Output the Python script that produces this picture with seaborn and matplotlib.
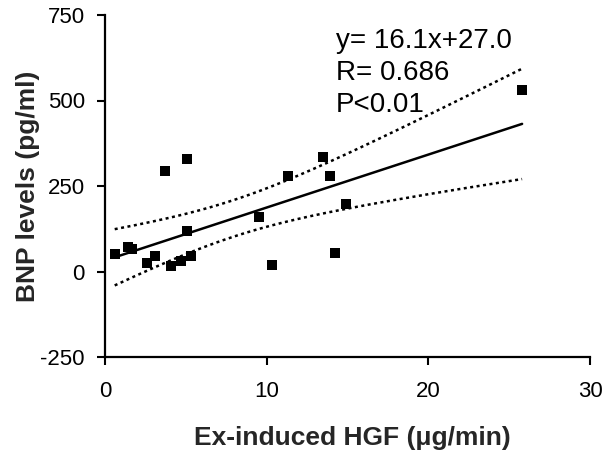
import numpy as np
import pandas as pd
import matplotlib
matplotlib.use("Agg")
import matplotlib.pyplot as plt
import seaborn as sns

# Data
hgf = [0.6, 1.4, 1.7, 2.6, 3.1, 4.1, 3.7, 5.1, 4.7, 5.3, 5.1, 9.5, 10.3, 11.3, 13.5, 13.9, 14.2, 14.9, 25.8]
bnp = [50, 72, 65, 26, 44, 17, 294, 329, 32, 44, 119, 160, 20, 279, 334, 279, 55, 198, 530]

x_ticks = [0, 10, 20, 30]
y_ticks = [-250, 0, 250, 500, 750]
stats_lines = ["y= 16.1x+27.0", "R= 0.686", "P<0.01"]
x_label = "Ex-induced HGF (\u03bcg/min)"
y_label = "BNP levels (pg/ml)"

df = pd.DataFrame({"hgf": hgf, "bnp": bnp})

sns.set_style("ticks")
plt.rcParams["font.family"] = ["Liberation Sans", "DejaVu Sans"]
plt.rcParams["axes.unicode_minus"] = False

fig = plt.figure(figsize=(6.03, 4.53), dpi=100)
ax = fig.add_axes([105 / 603, 1 - 357 / 453, 485 / 603, 342 / 453])

# regression and 95% confidence limits of the mean
x = np.asarray(hgf, float)
y = np.asarray(bnp, float)
n = len(x)
slope, intercept = np.polyfit(x, y, 1)
xs = np.linspace(x.min(), x.max(), 200)
yfit = slope * xs + intercept
resid = y - (slope * x + intercept)
s = np.sqrt(np.sum(resid ** 2) / (n - 2))
sxx = np.sum((x - x.mean()) ** 2)
tval = 2.11
half = tval * s * np.sqrt(1.0 / n + (xs - x.mean()) ** 2 / sxx)

sns.regplot(data=df, x="hgf", y="bnp", ax=ax, scatter=False, ci=None,
            color="black", line_kws={"lw": 1.8})
sns.lineplot(x=xs, y=yfit + half, ax=ax, color="black", lw=1.8,
             linestyle=(0, (1.2, 1.4)))
sns.lineplot(x=xs, y=yfit - half, ax=ax, color="black", lw=1.8,
             linestyle=(0, (1.2, 1.4)))
sns.scatterplot(data=df, x="hgf", y="bnp", ax=ax, marker="s", s=50,
                color="black", edgecolor="black", linewidth=0, zorder=5)

ax.set_xlim(0, 30)
ax.set_ylim(-250, 750)
ax.set_xticks(x_ticks)
ax.set_yticks(y_ticks)
ax.tick_params(axis="both", labelsize=16, length=5.5, width=1.5, direction="out",
               colors="black")
ax.tick_params(axis="x", pad=12)
ax.tick_params(axis="y", pad=9)
for side in ["top", "right"]:
    ax.spines[side].set_visible(False)
for side in ["left", "bottom"]:
    ax.spines[side].set_linewidth(1.6)
    ax.spines[side].set_color("black")

ax.set_xlabel(x_label, fontsize=19, fontweight="bold")
ax.set_ylabel(y_label, fontsize=19, fontweight="bold")
ax.xaxis.set_label_coords(0.51, -0.203)
ax.yaxis.set_label_coords(-0.134, 0.5)

ax.text(14.3, 712, "\n".join(stats_lines), fontsize=20, va="top", ha="left",
        linespacing=1.3, color="black")

fig.savefig("out.png", dpi=100)
